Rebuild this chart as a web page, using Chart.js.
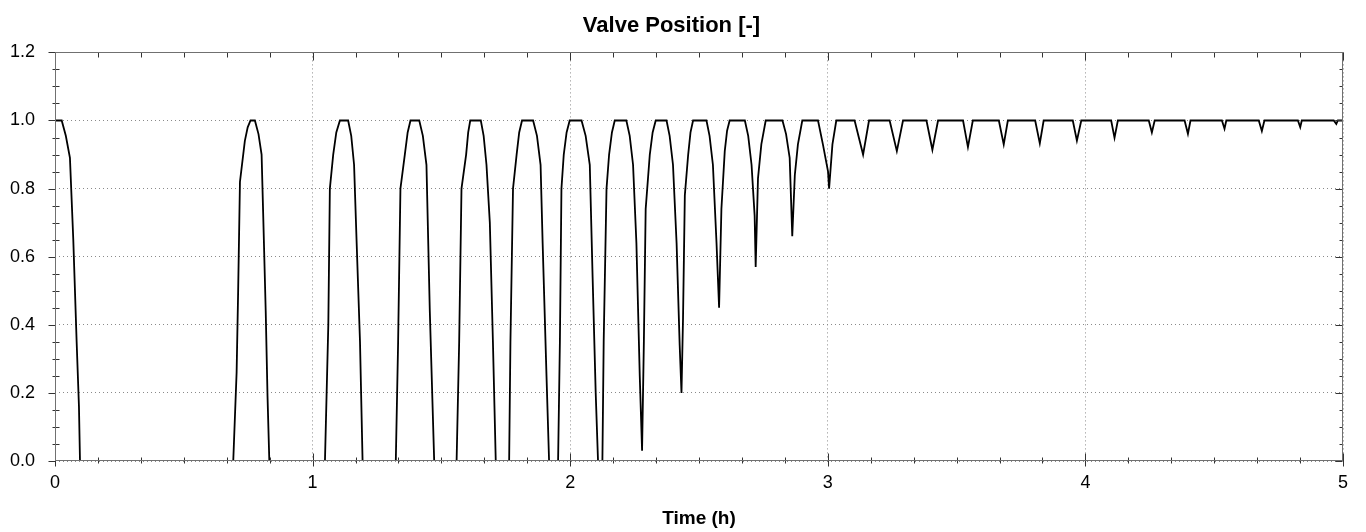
<!DOCTYPE html>
<html>
<head>
<meta charset="utf-8">
<script src="https://cdn.jsdelivr.net/npm/chart.js@4/dist/chart.umd.min.js"></script>
<style>
  html, body { margin: 0; padding: 0; background: #fff; }
  #wrap { width: 1366px; height: 532px; }
</style>
</head>
<body>
<div id="wrap"><canvas id="graph1"></canvas></div>
<script>
// time in hours, valve position (one line per cycle)
const timeH = [
  0.000, 0.026, 0.042, 0.058, 0.071, 0.084, 0.093, 0.097, 0.692,
  0.705, 0.711, 0.718, 0.737, 0.748, 0.759, 0.776, 0.790, 0.802, 0.808, 0.818, 0.825, 0.832, 1.048,
  1.061, 1.067, 1.080, 1.092, 1.106, 1.138, 1.150, 1.161, 1.171, 1.184, 1.194, 1.323,
  1.332, 1.341, 1.358, 1.369, 1.380, 1.414, 1.428, 1.442, 1.455, 1.472, 1.559,
  1.569, 1.578, 1.596, 1.604, 1.612, 1.653, 1.664, 1.675, 1.688, 1.700, 1.711, 1.763,
  1.768, 1.778, 1.792, 1.802, 1.813, 1.856, 1.871, 1.885, 1.893, 1.908, 1.918, 1.953,
  1.960, 1.966, 1.975, 1.986, 1.998, 2.044, 2.060, 2.076, 2.087, 2.099, 2.108, 2.125,
  2.130, 2.141, 2.151, 2.162, 2.173, 2.218, 2.231, 2.244, 2.257, 2.270, 2.279,
  2.286, 2.293, 2.309, 2.320, 2.332, 2.374, 2.386, 2.399, 2.413, 2.425, 2.432,
  2.438, 2.445, 2.458, 2.467, 2.477, 2.529, 2.541, 2.554, 2.568, 2.578,
  2.587, 2.600, 2.609, 2.619, 2.678, 2.691, 2.704, 2.716, 2.720,
  2.729, 2.742, 2.759, 2.824, 2.838, 2.852, 2.862,
  2.872, 2.884, 2.901, 2.962, 2.981, 3.001, 3.005,
  3.018, 3.033, 3.104, 3.137, 3.160, 3.240, 3.268, 3.292,
  3.383, 3.406, 3.428, 3.525, 3.544, 3.563, 3.664, 3.683, 3.699,
  3.805, 3.823, 3.838, 3.951, 3.967, 3.984, 4.100, 4.113, 4.126,
  4.246, 4.258, 4.269, 4.385, 4.398, 4.408, 4.530, 4.540, 4.547,
  4.673, 4.685, 4.695, 4.825, 4.834, 4.840, 4.964, 4.974, 4.980, 5.000
];
const valvePos = [
  1.00, 1.00, 0.955, 0.89, 0.65, 0.35, 0.16, 0.00, 0.00,
  0.26, 0.50, 0.82, 0.94, 0.98, 1.00, 1.00, 0.96, 0.90, 0.73, 0.44, 0.19, 0.00, 0.00,
  0.40, 0.80, 0.90, 0.965, 1.00, 1.00, 0.955, 0.87, 0.64, 0.35, 0.00, 0.00,
  0.35, 0.80, 0.90, 0.965, 1.00, 1.00, 0.955, 0.87, 0.44, 0.00, 0.00,
  0.35, 0.80, 0.90, 0.965, 1.00, 1.00, 0.955, 0.87, 0.70, 0.35, 0.00, 0.00,
  0.35, 0.80, 0.90, 0.965, 1.00, 1.00, 0.955, 0.87, 0.64, 0.25, 0.00, 0.00,
  0.35, 0.80, 0.90, 0.965, 1.00, 1.00, 0.955, 0.87, 0.54, 0.20, 0.00, 0.00,
  0.35, 0.80, 0.90, 0.965, 1.00, 1.00, 0.955, 0.87, 0.64, 0.25, 0.03,
  0.35, 0.74, 0.90, 0.965, 1.00, 1.00, 0.955, 0.87, 0.64, 0.34, 0.20,
  0.42, 0.78, 0.90, 0.965, 1.00, 1.00, 0.955, 0.87, 0.64, 0.45,
  0.74, 0.91, 0.97, 1.00, 1.00, 0.955, 0.87, 0.72, 0.57,
  0.83, 0.93, 1.00, 1.00, 0.96, 0.89, 0.66,
  0.84, 0.93, 1.00, 1.00, 0.93, 0.85, 0.80,
  0.93, 1.00, 1.00, 0.90, 1.00, 1.00, 0.91, 1.00,
  1.00, 0.914, 1.00, 1.00, 0.922, 1.00, 1.00, 0.930, 1.00,
  1.00, 0.933, 1.00, 1.00, 0.941, 1.00, 1.00, 0.949, 1.00,
  1.00, 0.965, 1.00, 1.00, 0.961, 1.00, 1.00, 0.976, 1.00,
  1.00, 0.969, 1.00, 1.00, 0.980, 1.00, 1.00, 0.990, 1.00, 1.00
];

const xMajorTicks = [0, 1, 2, 3, 4, 5];
const yMajorTicks = [0, 0.2, 0.4, 0.6, 0.8, 1.0, 1.2];
const xMinorStep = 1 / 6;   // 10 min
const yMinorStep = 0.05;

const FONT = "'Liberation Sans', Arial, sans-serif";

// frame round the plot plus small tick marks on all four sides
const frameTicks = {
  id: 'frameTicks',
  afterDraw(chart) {
    const { ctx, chartArea: a, scales: { x, y } } = chart;
    const L = Math.round(a.left) + 0.5;
    const R = Math.round(a.right) - 0.5;
    const T = Math.round(a.top) + 0.5;
    const B = Math.round(a.bottom) - 0.5;
    ctx.save();
    ctx.lineWidth = 1;
    ctx.strokeStyle = '#333';
    ctx.beginPath();
    for (let v = 0; v <= x.max + 1e-9; v += xMinorStep) {
      const major = Math.abs(v - Math.round(v)) < 1e-6;
      const px = Math.round(x.getPixelForValue(v)) + 0.5;
      ctx.moveTo(px, B - (major ? 7 : 3));
      ctx.lineTo(px, B + (major ? 6 : 3));
      ctx.moveTo(px, T);
      ctx.lineTo(px, T + (major ? 8 : 5));
    }
    for (let v = 0; v <= y.max + 1e-9; v += yMinorStep) {
      const major = yMajorTicks.some(t => Math.abs(t - v) < 1e-6);
      const py = Math.round(y.getPixelForValue(v)) + 0.5;
      ctx.moveTo(L - (major ? 7 : 3), py);
      ctx.lineTo(L + (major ? 0 : 4), py);
      ctx.moveTo(R, py);
      ctx.lineTo(R - (major ? 7 : 3), py);
    }
    ctx.stroke();
    ctx.strokeStyle = '#707070';
    ctx.strokeRect(L, T, R - L, B - T);
    ctx.restore();
  }
};

const ctx = document.getElementById('graph1').getContext('2d');
const chart = new Chart(ctx, {
  type: 'line',
  data: {
    datasets: [{
      label: 'Valve Position',
      data: timeH.map((t, i) => ({ x: t, y: valvePos[i] })),
      borderColor: '#000',
      borderWidth: 1.8,
      pointRadius: 0,
      tension: 0,
      fill: false
    }]
  },
  options: {
    responsive: true,
    maintainAspectRatio: false,
    animation: false,
    layout: { padding: { left: 0, right: 23, top: 0, bottom: 0 } },
    plugins: {
      legend: { display: false },
      tooltip: { enabled: false },
      title: {
        display: true,
        text: 'Valve Position [-]',
        color: '#000',
        font: { family: FONT, size: 22, weight: 'bold' },
        padding: { top: 13, bottom: 13 }
      }
    },
    scales: {
      x: {
        type: 'linear',
        min: 0,
        max: 5,
        afterBuildTicks: s => { s.ticks = xMajorTicks.map(v => ({ value: v })); },
        afterFit: s => { s.height = 71; },
        ticks: {
          color: '#000',
          padding: 11,
          font: { family: FONT, size: 18 },
          callback: v => String(v)
        },
        grid: { color: '#8a8a8a', lineWidth: 1, drawTicks: false },
        border: { display: false, dash: [1, 3] },
        title: {
          display: true,
          text: 'Time (h)',
          color: '#000',
          font: { family: FONT, size: 19, weight: 'bold' },
          padding: { top: 3, bottom: 2 }
        }
      },
      y: {
        min: 0,
        max: 1.2,
        afterBuildTicks: s => { s.ticks = yMajorTicks.map(v => ({ value: v })); },
        afterFit: s => { s.width = 55; },
        ticks: {
          color: '#000',
          padding: 20,
          font: { family: FONT, size: 18 },
          callback: v => Number(v).toFixed(1)
        },
        grid: { color: '#8a8a8a', lineWidth: 1, drawTicks: false },
        border: { display: false, dash: [1, 3] }
      }
    }
  },
  plugins: [frameTicks]
});
</script>
</body>
</html>
